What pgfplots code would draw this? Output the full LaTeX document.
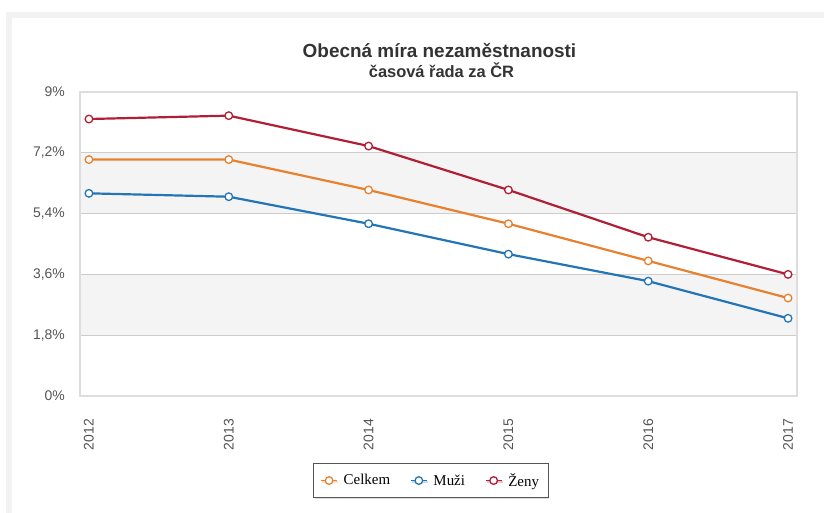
\documentclass[border=0pt]{standalone}
\usepackage{fontspec}
\setmainfont{Liberation Sans}
\newfontfamily\legendfont{Liberation Serif}
\usepackage{pgfplots}
\pgfplotsset{compat=1.18}
\usetikzlibrary{shadows}

\definecolor{celkem}{HTML}{E8812F}
\definecolor{muzi}{HTML}{2475B5}
\definecolor{zeny}{HTML}{B01F35}
\definecolor{pagegray}{HTML}{F2F2F2}
\definecolor{bandgray}{HTML}{F4F4F4}
\definecolor{gridgray}{HTML}{CCCCCC}
\definecolor{framegray}{HTML}{DDDDDD}
\definecolor{ticktext}{HTML}{555555}
\definecolor{titletext}{HTML}{333333}

\begin{document}
\begin{tikzpicture}
% page and panel frame
\fill[white] (0bp,0bp) rectangle (824bp,513bp);
\fill[pagegray] (6bp,0bp) rectangle (12bp,501bp);
\fill[pagegray] (6bp,495bp) rectangle (824bp,501bp);
% titles
\node[anchor=base, inner sep=0pt, font=\bfseries\fontsize{19}{22}\selectfont, text=titletext] at (439.5bp,455bp) {Obecná míra nezaměstnanosti};
\node[anchor=base, inner sep=0pt, font=\bfseries\fontsize{16.5}{19}\selectfont, text=titletext] at (441.5bp,435bp) {časová řada za ČR};
% alternating background bands of the plot area (1,8–3,6 % and 5,4–7,2 %)
\fill[bandgray] (80bp,177.8bp) rectangle (797bp,238.6bp);
\fill[bandgray] (80bp,299.4bp) rectangle (797bp,360.2bp);

\begin{axis}[
  at={(80bp,117bp)}, anchor=south west,
  scale only axis, width=717bp, height=304bp,
  xmin=2011.936, xmax=2017.064, ymin=0, ymax=9,
  xtick={2012,2013,2014,2015,2016,2017},
  xticklabels={2012,2013,2014,2015,2016,2017},
  ytick={0,1.8,3.6,5.4,7.2,9},
  yticklabels={0\%,{1,8\%},{3,6\%},{5,4\%},{7,2\%},9\%},
  ymajorgrids,
  major grid style={gridgray, line width=1bp},
  major tick length=0pt,
  axis line style={framegray, line width=1.8bp},
  tick label style={text=ticktext, font=\fontsize{14}{16}\selectfont},
  xticklabel style={rotate=90, anchor=east, inner sep=0pt},
  xticklabel shift=23bp,
  yticklabel style={anchor=east, inner sep=0pt},
  yticklabel shift=15bp,
  legend columns=3,
  legend style={at={(0.325,-0.2204)}, anchor=north west,
    draw=ticktext, fill=white, line width=0.8bp,
    drop shadow={shadow xshift=1.2bp, shadow yshift=-1.2bp, opacity=0.25},
    font=\legendfont\fontsize{15}{17}\selectfont,
    inner xsep=7bp, inner ysep=8bp,
    /tikz/every odd column/.append style={column sep=4bp},
    /tikz/every even column/.append style={column sep=18bp}},
  legend image code/.code={
    \draw[#1, line width=1.3bp, mark=none] (0bp,0bp) -- (16bp,0bp);
    \draw[#1, mark repeat=1] plot coordinates {(8bp,0bp)};
  },
  every axis plot/.append style={line width=2.2bp, mark=*, mark size=3.8bp,
    mark options={fill=white, line width=1.3bp}},
]
\addplot[celkem] coordinates {
  (2012,7.0) (2013,7.0) (2014,6.1) (2015,5.1) (2016,4.0) (2017,2.9)};
\addlegendentry{Celkem}
\addplot[muzi] coordinates {
  (2012,6.0) (2013,5.9) (2014,5.1) (2015,4.2) (2016,3.4) (2017,2.3)};
\addlegendentry{Muži}
\addplot[zeny] coordinates {
  (2012,8.2) (2013,8.3) (2014,7.4) (2015,6.1) (2016,4.7) (2017,3.6)};
\addlegendentry{Ženy}
\end{axis}
\end{tikzpicture}
\end{document}
